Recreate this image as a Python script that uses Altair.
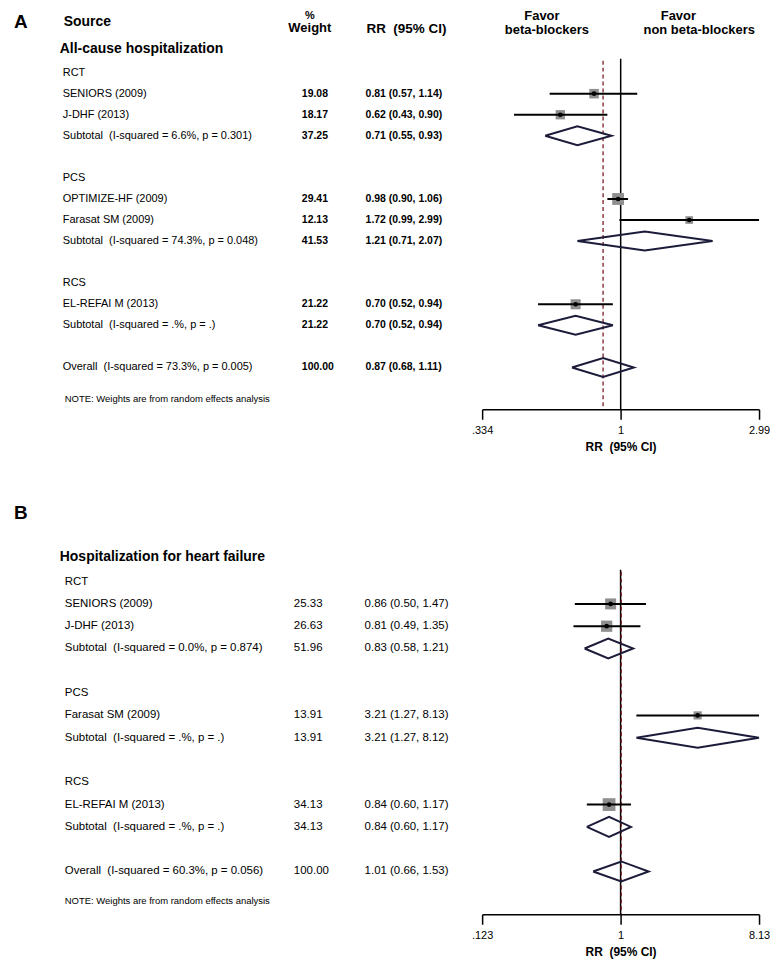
import altair as alt
import pandas as pd

FONT = "Liberation Sans"

# ---------------- Panel A data ----------------
labels_a = ["RCT", "SENIORS (2009)", "J-DHF (2013)",
            "Subtotal\u00a0 (I-squared = 6.6%, p = 0.301)", "",
            "PCS", "OPTIMIZE-HF (2009)", "Farasat SM (2009)",
            "Subtotal\u00a0 (I-squared = 74.3%, p = 0.048)", "",
            "RCS", "EL-REFAI M (2013)",
            "Subtotal\u00a0 (I-squared = .%, p = .)", "",
            "Overall\u00a0 (I-squared = 73.3%, p = 0.005)"]
kinds_a = ["head", "study", "study", "sub", "blank",
           "head", "study", "study", "sub", "blank",
           "head", "study", "sub", "blank", "sub"]
weights_a = [None, 19.08, 18.17, 37.25, None,
             None, 29.41, 12.13, 41.53, None,
             None, 21.22, 21.22, None, 100.00]
est_a = [None, 0.81, 0.62, 0.71, None,
         None, 0.98, 1.72, 1.21, None,
         None, 0.70, 0.70, None, 0.87]
lo_a = [None, 0.57, 0.43, 0.55, None,
        None, 0.90, 0.99, 0.71, None,
        None, 0.52, 0.52, None, 0.68]
hi_a = [None, 1.14, 0.90, 0.93, None,
        None, 1.06, 2.99, 2.07, None,
        None, 0.94, 0.94, None, 1.11]
ticks_a = [0.334, 1, 2.99]

# ---------------- Panel B data ----------------
labels_b = ["RCT", "SENIORS (2009)", "J-DHF (2013)",
            "Subtotal\u00a0 (I-squared = 0.0%, p = 0.874)", "",
            "PCS", "Farasat SM (2009)",
            "Subtotal\u00a0 (I-squared = .%, p = .)", "",
            "RCS", "EL-REFAI M (2013)",
            "Subtotal\u00a0 (I-squared = .%, p = .)", "",
            "Overall\u00a0 (I-squared = 60.3%, p = 0.056)"]
kinds_b = ["head", "study", "study", "sub", "blank",
           "head", "study", "sub", "blank",
           "head", "study", "sub", "blank", "sub"]
weights_b = [None, 25.33, 26.63, 51.96, None,
             None, 13.91, 13.91, None,
             None, 34.13, 34.13, None, 100.00]
est_b = [None, 0.86, 0.81, 0.83, None,
         None, 3.21, 3.21, None,
         None, 0.84, 0.84, None, 1.01]
lo_b = [None, 0.50, 0.49, 0.58, None,
        None, 1.27, 1.27, None,
        None, 0.60, 0.60, None, 0.66]
hi_b = [None, 1.47, 1.35, 1.21, None,
        None, 8.13, 8.12, None,
        None, 1.17, 1.17, None, 1.53]
ticks_b = [0.123, 1, 8.13]


def build_df(labels, kinds, weights, est, lo, hi):
    rows = []
    for i, (lab, k, w, e, l, h) in enumerate(zip(labels, kinds, weights, est, lo, hi)):
        rows.append(dict(
            row=i, label=lab, kind=k, weight=w, est=e, lo=l, hi=h,
            wtxt=("" if w is None else f"{w:.2f}"),
            rrtxt=("" if e is None else f"{e:.2f} ({l:.2f}, {h:.2f})"),
        ))
    return pd.DataFrame(rows)


def diamond_df(df, half):
    pts = []
    for _, r in df[df.kind == "sub"].iterrows():
        seq = [(r.lo, r.row), (r.est, r.row - half), (r.hi, r.row),
               (r.est, r.row + half), (r.lo, r.row)]
        for j, (xv, yv) in enumerate(seq):
            pts.append(dict(g=int(r.row), o=j, dx=xv, dy=yv))
    return pd.DataFrame(pts)


def one(**kw):
    return alt.Chart(pd.DataFrame([kw]))


def txt(text, x, y, size, weight="normal", align="left", baseline="middle"):
    return one(t=text).mark_text(
        text=text, align=align, baseline=baseline, fontSize=size,
        fontWeight=weight, font=FONT, color="black"
    ).encode(x=alt.value(x), y=alt.value(y))


def panel(df, xdomain, ticks, nrows, yrange, height, letter, letter_y, title,
          title_y, note_y, xs, num_bold, num_size, lab_size, line_top, header):
    XS = alt.Scale(type="log", domain=xdomain, range=[476, 754], nice=False)
    YS = alt.Scale(domain=[0, nrows], range=yrange, nice=False, zero=False)
    AX = alt.Axis(values=ticks, grid=False, tickSize=10, tickColor="black",
                  domainColor="black", tickWidth=1.5, domainWidth=1.5,
                  labelExpr="datum.value == 1 ? '1' : replace(format(datum.value, '.3~g'), /^0/, '')",
                  labelFont=FONT, labelFontSize=11, labelColor="black",
                  labelPadding=5, labelFlush=False,
                  title="RR\u00a0 (95% CI)", titleFont=FONT, titleFontSize=12,
                  titleFontWeight="bold", titleColor="black", titlePadding=6)

    def X(f):
        return alt.X(f, type="quantitative", scale=XS, axis=AX)

    def X2(f):
        return alt.X2(f)

    def Y(f):
        return alt.Y(f, type="quantitative", scale=YS, axis=None)

    base = alt.Chart(df)
    studies = df[df.kind == "study"]
    sbase = alt.Chart(studies)

    layers = []
    # row labels and numbers
    layers.append(base.mark_text(align="left", baseline="middle", fontSize=lab_size,
                                 font=FONT, color="black")
                  .encode(x=alt.value(xs[0]), y=Y("row"), text="label:N"))
    layers.append(base.mark_text(align="left", baseline="middle", fontSize=num_size,
                                 font=FONT, color="black", fontWeight=num_bold)
                  .encode(x=alt.value(xs[1]), y=Y("row"), text="wtxt:N"))
    layers.append(base.mark_text(align="left", baseline="middle", fontSize=num_size,
                                 font=FONT, color="black", fontWeight=num_bold)
                  .encode(x=alt.value(xs[2]), y=Y("row"), text="rrtxt:N"))

    # reference lines
    overall = float(df[df.label.str.startswith("Overall")].est.iloc[0])
    layers.append(one(v=1.0).mark_rule(color="black", strokeWidth=1.5)
                  .encode(x=X("v"), y=alt.value(line_top), y2=alt.value(height)))
    layers.append(one(v=overall).mark_rule(color="#7a1f24", strokeWidth=1.3,
                                           strokeDash=[4, 3])
                  .encode(x=X("v"), y=alt.value(line_top + 2), y2=alt.value(height)))

    # CI lines, squares, dots
    layers.append(sbase.mark_square(color="#8f8f8f", opacity=1)
                  .encode(x=X("est"), y=Y("row"),
                          size=alt.Size("weight:Q", scale=alt.Scale(domain=[0, 100], range=[0, 480]),
                                        legend=None)))
    layers.append(sbase.mark_rule(color="black", strokeWidth=2)
                  .encode(x=X("lo"), x2=X2("hi"), y=Y("row")))
    layers.append(sbase.mark_circle(color="black", size=22, opacity=1)
                  .encode(x=X("est"), y=Y("row")))

    # diamonds
    dd = diamond_df(df, 0.45)
    layers.append(alt.Chart(dd).mark_line(color="#1c1c3a", strokeWidth=2)
                  .encode(x=X("dx"), y=Y("dy"), detail="g:N", order="o:Q"))

    # texts
    layers.append(txt(letter, 6, letter_y, 19, "bold"))
    layers.append(txt(title, 52, title_y, 14, "bold"))
    layers.append(txt("NOTE: Weights are from random effects analysis", 57, note_y, 9.5))
    layers.extend(header)

    return alt.layer(*layers).properties(width=762, height=height)


df_a = build_df(labels_a, kinds_a, weights_a, est_a, lo_a, hi_a)
df_b = build_df(labels_b, kinds_b, weights_b, est_b, lo_b, hi_b)

header_a = [
    txt("Source", 56, 12, 14, "bold"),
    txt("%", 303, 0, 11, "bold", "center", "top"),
    txt("Weight", 303, 18, 13, "bold", "center"),
    txt("RR\u00a0 (95% CI)", 400, 19, 13.5, "bold", "center"),
    txt("Favor", 536, 0, 13, "bold", "center", "top"),
    txt("beta-blockers", 541, 20, 13, "bold", "center"),
    txt("Favor", 673, 0, 13, "bold", "center", "top"),
    txt("non beta-blockers", 694, 20, 13, "bold", "center"),
]

panel_a = panel(df_a, [0.334, 2.99], ticks_a, 14, [63, 359], 401, "A", 12,
                "All-cause hospitalization", 39, 391, [55, 295, 359],
                "bold", 10.5, 11, 49, header_a)
panel_b = panel(df_b, [0.123, 8.13], ticks_b, 13, [104, 395], 438, "B", 35,
                "Hospitalization for heart failure", 79, 425, [57, 287, 358],
                "normal", 11.5, 11.5, 92, [])

chart = alt.vconcat(panel_a, panel_b, spacing=69, bounds="flush").properties(
    padding={"left": 0, "top": 0, "right": 0, "bottom": 0},
    background="white",
).configure_view(strokeWidth=0, stroke=None)

chart.save("out.html", embed_options={"renderer": "svg", "actions": False})
